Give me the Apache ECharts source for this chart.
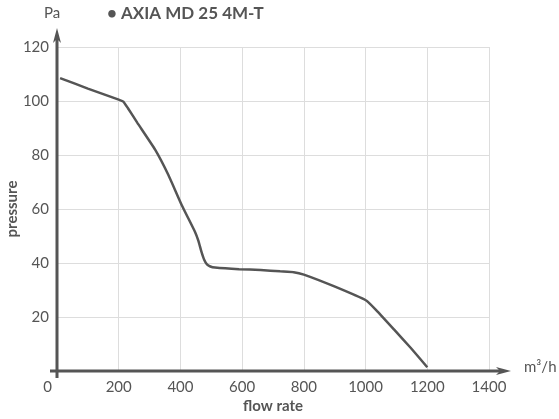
<!DOCTYPE html>
<html><head><meta charset="utf-8">
<script src="https://cdn.jsdelivr.net/npm/echarts@6/dist/echarts.min.js"></script>
<style>html,body{margin:0;padding:0;background:#fff}#c{width:559px;height:419px}</style>
</head><body><div id="c"></div>
<script>
const title = '• AXIA MD 25 4M-T';
const flowRate = [10, 100, 200, 215, 230, 260, 318, 361, 404, 447, 458, 468, 477, 486, 497, 512, 590, 660, 723, 767, 800, 897, 1002, 1038, 1092, 1146, 1200];
const pressure = [108.5, 104.6, 100.5, 99.8, 97.3, 92.0, 82.0, 72.6, 61.5, 51.6, 48.3, 44.2, 41.2, 39.5, 38.7, 38.3, 37.7, 37.4, 36.9, 36.6, 35.7, 31.4, 26.1, 22.1, 15.4, 8.6, 1.4];
const xMin = 0, xMax = 1400, xStep = 200;
const yMin = 0, yMax = 120, yStep = 20;
const xName = 'flow rate', yName = 'pressure', xUnit = 'm³/h', yUnit = 'Pa';

const ink = '#555555';
const font = 'Lato, "Open Sans", sans-serif';
const chart = echarts.init(document.getElementById('c'), null, {renderer: 'canvas'});
chart.setOption({
  animation: false,
  grid: {left: 57, right: 70, top: 47, bottom: 48, containLabel: false, outerBoundsMode: 'none'},
  xAxis: {
    type: 'value', min: xMin, max: xMax, interval: xStep,
    name: xName, nameLocation: 'middle', nameGap: 28, nameMoveOverlap: false,
    nameTextStyle: {color: ink, fontFamily: font, fontSize: 15, fontWeight: 'bold'},
    axisLine: {show: false}, axisTick: {show: false},
    axisLabel: {color: ink, fontFamily: font, fontSize: 15, margin: 9, alignMinLabel: 'right',
      formatter: v => v === 0 ? '{o|0}' : String(v),
      rich: {o: {color: ink, fontFamily: font, fontSize: 15, padding: [0, 5, 0, 0]}}},
    splitLine: {show: true, lineStyle: {color: '#dddddd', width: 1}}
  },
  yAxis: {
    type: 'value', min: yMin, max: yMax, interval: yStep,
    name: yName, nameLocation: 'middle', nameGap: 37, nameRotate: 90, nameMoveOverlap: false,
    nameTextStyle: {color: ink, fontFamily: font, fontSize: 15, fontWeight: 'bold'},
    axisLine: {show: false}, axisTick: {show: false},
    axisLabel: {color: ink, fontFamily: font, fontSize: 15, margin: 8, showMinLabel: false},
    splitLine: {show: true, lineStyle: {color: '#dddddd', width: 1}}
  },
  series: [{
    type: 'line', data: flowRate.map((f, i) => [f, pressure[i]]),
    showSymbol: false, smooth: 0.15,
    lineStyle: {color: ink, width: 2.5}
  }]
});

const o = chart.convertToPixel({gridIndex: 0}, [xMin, yMin]);
const e = chart.convertToPixel({gridIndex: 0}, [xMax, yMax]);
const xTip = e[0] + 22, yTip = e[1] - 19;
chart.setOption({
  graphic: [
    {type: 'line', shape: {x1: o[0] - 7, y1: o[1], x2: xTip - 10, y2: o[1]}, style: {stroke: ink, lineWidth: 3}, z: 10},
    {type: 'polygon', shape: {points: [[xTip, o[1]], [xTip - 15, o[1] - 4], [xTip - 11, o[1]], [xTip - 15, o[1] + 4]]}, style: {fill: ink}, z: 10},
    {type: 'line', shape: {x1: o[0], y1: o[1] + 7, x2: o[0], y2: yTip + 10}, style: {stroke: ink, lineWidth: 3}, z: 10},
    {type: 'polygon', shape: {points: [[o[0], yTip], [o[0] - 4, yTip + 15], [o[0], yTip + 11], [o[0] + 4, yTip + 15]]}, style: {fill: ink}, z: 10},
    {type: 'text', x: o[0] - 5, y: 13, style: {text: yUnit, fill: ink, font: '15px ' + font, textAlign: 'center', textVerticalAlign: 'middle'}},
    {type: 'text', x: 524, y: o[1] - 4, style: {text: xUnit, fill: ink, font: '15px ' + font, textAlign: 'left', textVerticalAlign: 'middle'}},
    {type: 'text', x: 107, y: 14, style: {text: title, fill: ink, font: 'bold 17px ' + font, textAlign: 'left', textVerticalAlign: 'middle'}}
  ]
});
</script></body></html>
